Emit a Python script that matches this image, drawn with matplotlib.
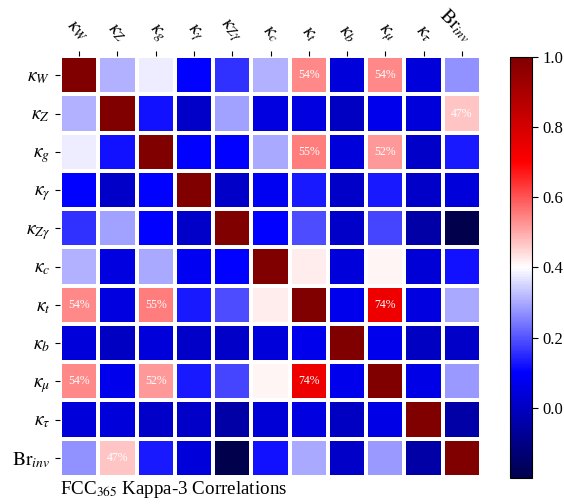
import numpy as np
import matplotlib
matplotlib.use("Agg")
import matplotlib.pyplot as plt

plt.rcParams['font.family'] = 'serif'
plt.rcParams['font.serif'] = ['Liberation Serif', 'DejaVu Serif']
plt.rcParams['mathtext.fontset'] = 'stix'

labels = [r'$\kappa_W$', r'$\kappa_Z$', r'$\kappa_g$', r'$\kappa_\gamma$', r'$\kappa_{Z\gamma}$',
          r'$\kappa_c$', r'$\kappa_t$', r'$\kappa_b$', r'$\kappa_\mu$', r'$\kappa_\tau$',
          r'$\mathrm{Br}_{inv}$']

# rows: W, Z, g, gamma, Zgamma, c, t, b, mu, tau, Br_inv
row_W   = [1.00, 0.31, 0.38, 0.10, 0.16, 0.31, 0.54, 0.04, 0.54, 0.04, 0.27]
row_Z   = [0.31, 1.00, 0.12, 0.01, 0.29, 0.05, 0.05, 0.00, 0.07, 0.04, 0.47]
row_g   = [0.38, 0.12, 1.00, 0.10, 0.10, 0.30, 0.55, 0.04, 0.52, 0.01, 0.13]
row_ga  = [0.10, 0.01, 0.10, 1.00, 0.01, 0.08, 0.13, 0.01, 0.13, 0.01, 0.04]
row_Zga = [0.16, 0.29, 0.10, 0.01, 1.00, 0.10, 0.19, 0.01, 0.18, -0.05, -0.20]
row_c   = [0.31, 0.05, 0.30, 0.08, 0.10, 1.00, 0.42, 0.04, 0.41, 0.03, 0.12]
row_t   = [0.54, 0.05, 0.55, 0.13, 0.19, 0.42, 1.00, 0.07, 0.74, 0.05, 0.30]
row_b   = [0.04, 0.00, 0.04, 0.01, 0.01, 0.04, 0.07, 1.00, 0.07, 0.00, 0.01]
row_mu  = [0.54, 0.07, 0.52, 0.13, 0.18, 0.41, 0.74, 0.07, 1.00, 0.06, 0.28]
row_tau = [0.04, 0.04, 0.01, 0.01, -0.05, 0.03, 0.05, 0.00, 0.06, 1.00, -0.05]
row_Br  = [0.27, 0.47, 0.13, 0.04, -0.20, 0.12, 0.30, 0.01, 0.28, -0.05, 1.00]

corr = np.array([row_W, row_Z, row_g, row_ga, row_Zga, row_c, row_t, row_b,
                 row_mu, row_tau, row_Br])
n = len(labels)

fig = plt.figure(figsize=(5.64, 5.04), dpi=100)
ax = fig.add_axes([0.1064, 0.0536, 0.7465, 0.835])
cax = fig.add_axes([0.904, 0.052, 0.039, 0.835])

mesh = ax.pcolormesh(np.arange(n + 1) - 0.5, np.arange(n + 1) - 0.5, corr,
                     cmap='seismic', vmin=corr.min(), vmax=1.0,
                     edgecolors='white', linewidth=2.8)
ax.set_xlim(-0.5, n - 0.5)
ax.set_ylim(n - 0.5, -0.5)
ax.set_aspect('auto')
for s in ax.spines.values():
    s.set_visible(False)

ax.xaxis.tick_top()
ax.set_xticks(np.arange(n))
ax.set_yticks(np.arange(n))
ax.set_xticklabels(labels, rotation=-45, ha='right', va='bottom',
                   rotation_mode='anchor', fontsize=14)
ax.set_yticklabels(labels, fontsize=14)
ax.tick_params(length=3.5, width=0.8)
ax.tick_params(axis='x', pad=4)

for i in range(n):
    for j in range(n):
        if i != j and corr[i, j] > 0.45:
            ax.text(j, i, f"{corr[i, j]*100:.0f}%", ha='center', va='center',
                    color='white', fontsize=8.5)

cb = fig.colorbar(mesh, cax=cax)
cb.set_ticks([0.0, 0.2, 0.4, 0.6, 0.8, 1.0])
cb.ax.tick_params(labelsize=12, length=4)

fig.text(0.1064, 0.008, r'FCC$_{365}$ Kappa-3 Correlations', fontsize=13.7, ha='left', va='bottom')

fig.savefig('out.png', dpi=100)
